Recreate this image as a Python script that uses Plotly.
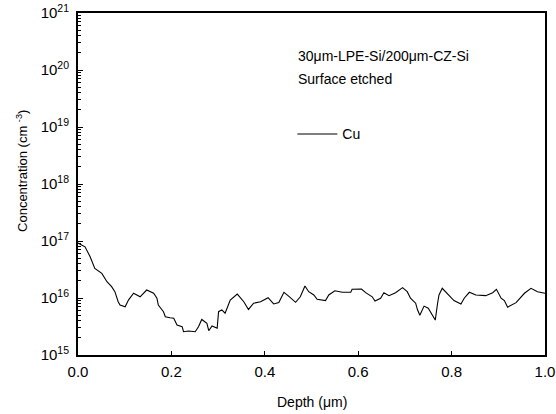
import plotly.graph_objects as go

depth = [0.000, 0.015, 0.026, 0.036, 0.051, 0.062, 0.072, 0.079, 0.086, 0.090,
         0.101, 0.108, 0.119, 0.133, 0.147, 0.162, 0.169, 0.172, 0.183, 0.187,
         0.197, 0.205, 0.212, 0.223, 0.226, 0.237, 0.251, 0.258, 0.265, 0.276,
         0.280, 0.287, 0.298, 0.301, 0.308, 0.315, 0.326, 0.341, 0.355, 0.365,
         0.376, 0.391, 0.407, 0.419, 0.430, 0.441, 0.451, 0.466, 0.476, 0.486,
         0.494, 0.505, 0.512, 0.530, 0.537, 0.550, 0.566, 0.584, 0.587, 0.607,
         0.616, 0.630, 0.636, 0.648, 0.655, 0.666, 0.680, 0.695, 0.705, 0.712,
         0.723, 0.727, 0.732, 0.741, 0.750, 0.765, 0.770, 0.773, 0.780, 0.791,
         0.805, 0.820, 0.827, 0.838, 0.852, 0.873, 0.888, 0.896, 0.906, 0.913,
         0.920, 0.938, 0.956, 0.970, 0.984, 1.000]

cu = [9.2e16, 7.9e16, 5.3e16, 3.3e16, 2.7e16, 1.93e16, 1.58e16, 1.29e16, 8.6e15, 7.5e15,
      7.0e15, 9.2e15, 1.21e16, 1.05e16, 1.38e16, 1.21e16, 9.9e15, 7.5e15, 5.75e15, 4.7e15,
      4.5e15, 4.4e15, 3.36e15, 3.14e15, 2.56e15, 2.63e15, 2.56e15, 3.14e15, 4.2e15, 3.6e15,
      2.67e15, 3.23e15, 2.94e15, 5.75e15, 6.2e15, 5.4e15, 9.2e15, 1.17e16, 8.6e15, 6.3e15,
      8.1e15, 8.6e15, 1.01e16, 7.85e15, 8.3e15, 1.26e16, 1.08e16, 8.4e15, 1.05e16, 1.62e16,
      1.29e16, 1.13e16, 9.5e15, 9.0e15, 1.13e16, 1.34e16, 1.26e16, 1.26e16, 1.42e16, 1.44e16,
      1.24e16, 1.05e16, 8.85e15, 9.9e15, 1.24e16, 1.1e16, 1.24e16, 1.52e16, 1.29e16, 9.9e15,
      8.1e15, 6.2e15, 5.0e15, 7.2e15, 6.6e15, 4.1e15, 8.1e15, 1.13e16, 1.48e16, 1.21e16,
      9.0e15, 7.85e15, 9.9e15, 1.26e16, 1.13e16, 1.1e16, 1.24e16, 1.42e16, 9.9e15, 9.0e15,
      6.9e15, 8.3e15, 1.21e16, 1.48e16, 1.29e16, 1.21e16]

x_ticks = [0.0, 0.2, 0.4, 0.6, 0.8, 1.0]
x_ticktext = ["0.0", "0.2", "0.4", "0.6", "0.8", "1.0"]
y_ticks = [1e15, 1e16, 1e17, 1e18, 1e19, 1e20, 1e21]
y_ticktext = ["10<sup>15</sup>", "10<sup>16</sup>", "10<sup>17</sup>", "10<sup>18</sup>",
              "10<sup>19</sup>", "10<sup>20</sup>", "10<sup>21</sup>"]
minor_y = [float(m) * 10.0 ** e for e in range(15, 21) for m in range(2, 10)]

font = "Liberation Sans, Arial, sans-serif"

fig = go.Figure()
fig.add_trace(go.Scatter(x=depth, y=cu, mode="lines", name="Cu",
                         line=dict(color="black", width=1.1)))

fig.update_layout(
    width=556, height=414,
    margin=dict(l=78, r=11, t=13, b=59),
    paper_bgcolor="white", plot_bgcolor="white",
    font=dict(family=font, size=15, color="black"),
    showlegend=True,
    legend=dict(x=0.459, y=0.645, xanchor="left", yanchor="middle",
                bgcolor="rgba(0,0,0,0)", font=dict(size=14), itemwidth=40),
    xaxis=dict(range=[0, 1], tickvals=x_ticks, ticktext=x_ticktext,
               ticks="inside", ticklen=4, tickwidth=1, tickcolor="black",
               tickfont=dict(size=15), ticklabelstandoff=2,
               showline=True, linecolor="black", linewidth=2, mirror=True,
               showgrid=False, zeroline=False, automargin=False),
    yaxis=dict(type="log", range=[15, 21], tickvals=y_ticks, ticktext=y_ticktext,
               ticks="inside", ticklen=5, tickwidth=1, tickcolor="black",
               tickfont=dict(size=15), ticklabelstandoff=4,
               minor=dict(tickvals=minor_y, ticks="inside", ticklen=3,
                          tickwidth=1, tickcolor="black", showgrid=False),
               showline=True, linecolor="black", linewidth=2, mirror=True,
               showgrid=False, zeroline=False, automargin=False),
)

# axis titles
fig.add_annotation(text="Depth (μm)", xref="paper", yref="paper",
                   x=0.5, y=-0.136, xanchor="center", yanchor="middle",
                   showarrow=False, font=dict(size=14))
fig.add_annotation(text="Concentration (cm <sup>-3</sup>)", xref="paper", yref="paper",
                   x=-0.12, y=0.538, xanchor="center", yanchor="middle", textangle=-90,
                   showarrow=False, font=dict(size=13))

# in-plot text
fig.add_annotation(text="30μm-LPE-Si/200μm-CZ-Si", xref="paper", yref="paper",
                   x=0.467, y=0.873, xanchor="left", yanchor="middle",
                   showarrow=False, font=dict(size=14))
fig.add_annotation(text="Surface etched", xref="paper", yref="paper",
                   x=0.467, y=0.807, xanchor="left", yanchor="middle",
                   showarrow=False, font=dict(size=14))

fig.write_html("out.html", config={"displayModeBar": False},
               post_script="document.body.style.margin='0';document.body.style.overflow='hidden';")
